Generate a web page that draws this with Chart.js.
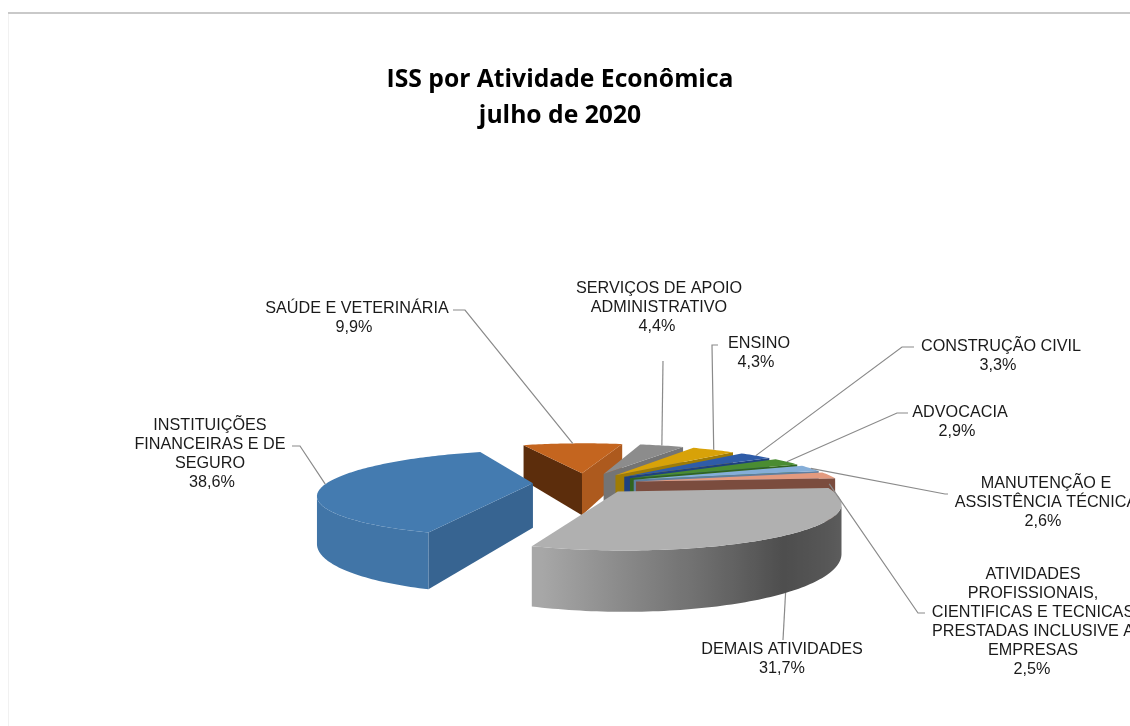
<!DOCTYPE html>
<html>
<head>
<meta charset="utf-8">
<title>ISS por Atividade Econômica</title>
<script src="https://cdn.jsdelivr.net/npm/chart.js@4/dist/chart.umd.min.js"></script>
<style>
  html, body { margin: 0; padding: 0; background: #fff; overflow: hidden; }
  #wrap { width: 1130px; height: 726px; }
  canvas { display: block; filter: blur(0.45px); }
</style>
</head>
<body>
<div id="wrap"><canvas id="grafico" width="1130" height="726"></canvas></div>
<script>
// === Dados ===
const titulo = ['ISS por Atividade Econômica', 'julho de 2020'];
const categorias = [
  ['SAÚDE E VETERINÁRIA'],
  ['SERVIÇOS DE APOIO', 'ADMINISTRATIVO'],
  ['ENSINO'],
  ['CONSTRUÇÃO CIVIL'],
  ['ADVOCACIA'],
  ['MANUTENÇÃO E', 'ASSISTÊNCIA TÉCNICA'],
  ['ATIVIDADES', 'PROFISSIONAIS,', 'CIENTIFICAS E TECNICAS', 'PRESTADAS INCLUSIVE A', 'EMPRESAS'],
  ['DEMAIS ATIVIDADES'],
  ['INSTITUIÇÕES', 'FINANCEIRAS E DE', 'SEGURO']
];
const valores = [9.9, 4.4, 4.3, 3.3, 2.9, 2.6, 2.5, 31.7, 38.6];

// === Estilo ===
const coresTopo = ['#c4651f', '#8c8c8c', '#d8a208', '#2f5ca8', '#4a8c32', '#85aed8', '#e39a7f', '#b0b0b0', '#447bb0'];
const coresInicio = ['#5c2d0c', '#6e6e6e', '#9a7600', '#1e3f7a', '#2f6020', '#5f7fa0', '#7b4c3e', '#808080', '#376491'];
const coresFim = ['#ad5a1e', '#747474', '#a07c04', '#1f4180', '#31641f', '#607fa0', '#7b4c3e', '#808080', '#376491'];

// posição dos rótulos: centro x, y da primeira linha, centro x do percentual
const posRotulos = [
  [357, 309, 354], [659, 289, 657], [759, 344, 756], [1001, 347, 998], [960, 413, 957],
  [1046, 484, 1043], [1033, 575, 1032], [782, 650, 782], [210, 426, 212]
];
// linhas de chamada: sai da fatia (altura relativa da parede) e segue até o rótulo
const chamadas = [
  { z: 0, pts: [[465, 310], [453, 310]] },
  { z: 0, pts: [[663, 361]] },
  { z: 0, pts: [[712, 345], [718, 345]] },
  { z: 0, pts: [[902, 347], [914, 347]] },
  { z: 0, pts: [[897, 413], [908, 413]] },
  { z: 0, pts: [[945, 494], [948, 494]] },
  { z: 0.2, pts: [[918, 613], [925, 613]] },
  { z: 1, pts: [[783, 640]] },
  { z: 0, pts: [[300, 446], [292, 446]] }
];

const FONTE = '"Liberation Sans", Arial, sans-serif';
const ALTURA = 44.5, INCLINACAO = 0.198, CAMERA = 900, DESLOC = 11;

function clarear(hex, f) {
  const n = parseInt(hex.slice(1), 16);
  const c = [n >> 16, (n >> 8) & 255, n & 255].map(v => Math.round(v * f));
  return `rgb(${c[0]},${c[1]},${c[2]})`;
}

// Projeção em perspectiva de um ponto do plano da pizza
function projetar(arc, u, v, z) {
  const s = 1 / (1 - v / CAMERA);
  return {
    x: arc.x + DESLOC + (u - DESLOC) * s,
    y: arc.y + INCLINACAO * v * s + z * ALTURA * s
  };
}

function pontoFatia(arc, ang, r, z) {
  const meio = (arc.startAngle + arc.endAngle) / 2;
  const off = arc.options.offset;
  return projetar(arc, off * Math.cos(meio) + r * Math.cos(ang), off * Math.sin(meio) + r * Math.sin(ang), z);
}

function poligono(ctx, pts, cor) {
  ctx.beginPath();
  pts.forEach((p, i) => i ? ctx.lineTo(p.x, p.y) : ctx.moveTo(p.x, p.y));
  ctx.closePath();
  ctx.fillStyle = cor;
  ctx.fill();
}

// sombra da parede curva conforme a direção da normal
function sombra(nx) {
  if (nx < -0.3) return 0.95;
  if (nx < 0.6) return 0.95 - (nx + 0.3) * 0.567;
  return 0.44 + (nx - 0.6) * 0.25;
}

function desenharParede(ctx, arc, i, a0, a1, passos) {
  const R = arc.outerRadius;
  const sup = [], inf = [], nxs = [];
  for (let k = 0; k <= passos; k++) {
    const b = a0 + (a1 - a0) * k / passos;
    const p = pontoFatia(arc, b, R, 0);
    // só o trecho que anda para a esquerda fica de frente para a câmera
    if (k < passos && pontoFatia(arc, b + (a1 - a0) / passos, R, 0).x >= p.x && !sup.length) continue;
    if (sup.length && p.x >= sup[sup.length - 1].x) break;
    sup.push(p);
    inf.push(pontoFatia(arc, b, R, 1));
    nxs.push(Math.cos(b));
  }
  if (sup.length < 2) return;
  const xIni = sup[0].x, xFim = sup[sup.length - 1].x;
  const grad = ctx.createLinearGradient(xIni, 0, xFim, 0);
  sup.forEach((p, k) => grad.addColorStop((p.x - xIni) / (xFim - xIni), clarear(coresTopo[i], sombra(nxs[k]))));
  poligono(ctx, sup.concat(inf.reverse()), grad);
}

function desenharFatia(ctx, arc, i) {
  const a0 = arc.startAngle, a1 = arc.endAngle, R = arc.outerRadius;
  const passos = Math.max(6, Math.ceil((a1 - a0) / 0.02));
  const apice = pontoFatia(arc, 0, 0, 0);
  const apiceB = pontoFatia(arc, 0, 0, 1);

  // faces radiais visíveis
  const p0 = pontoFatia(arc, a0, R, 0), p0b = pontoFatia(arc, a0, R, 1);
  const p1 = pontoFatia(arc, a1, R, 0), p1b = pontoFatia(arc, a1, R, 1);
  if (p0.x < apice.x) poligono(ctx, [apice, p0, p0b, apiceB], coresInicio[i]);
  if (p1.x > apice.x) poligono(ctx, [apice, p1, p1b, apiceB], coresFim[i]);

  desenharParede(ctx, arc, i, a0, a1, passos);

  // topo
  const topo = [apice];
  for (let k = 0; k <= passos; k++) topo.push(pontoFatia(arc, a0 + (a1 - a0) * k / passos, R, 0));
  poligono(ctx, topo, coresTopo[i]);
}

const pizza3d = {
  id: 'pizza3d',
  beforeDatasetsDraw(chart) {
    const ctx = chart.ctx;
    const arcos = chart.getDatasetMeta(0).data;
    ctx.save();
    arcos.forEach((arc, i) => desenharFatia(ctx, arc, i));
    ctx.restore();
    return false; // o desenho plano padrão não é usado
  },
  afterDraw(chart) {
    const ctx = chart.ctx;
    const arcos = chart.getDatasetMeta(0).data;
    ctx.save();

    // moldura
    ctx.fillStyle = '#f1f1f1';
    ctx.fillRect(8, 14, 1, 712);
    ctx.fillStyle = '#c9c9c9';
    ctx.fillRect(8, 12, 1122, 2);

    // título
    ctx.fillStyle = '#000';
    ctx.textAlign = 'center';
    ctx.textBaseline = 'middle';
    ctx.font = 'bold 24.7px "Open Sans", sans-serif';
    ctx.fillText(titulo[0], 560, 80);
    ctx.fillText(titulo[1], 560, 116);

    // linhas de chamada
    ctx.strokeStyle = '#8a8a8a';
    ctx.lineWidth = 1.2;
    arcos.forEach((arc, i) => {
      const meio = (arc.startAngle + arc.endAngle) / 2;
      const ini = pontoFatia(arc, meio, arc.outerRadius, chamadas[i].z);
      ctx.beginPath();
      ctx.moveTo(ini.x, ini.y);
      chamadas[i].pts.forEach(p => ctx.lineTo(p[0], p[1]));
      ctx.stroke();
    });

    // rótulos
    ctx.fillStyle = '#1a1a1a';
    ctx.font = '16.2px ' + FONTE;
    categorias.forEach((linhas, i) => {
      const [cx, y0, cxPct] = posRotulos[i];
      linhas.forEach((t, k) => ctx.fillText(t, cx, y0 + k * 19));
      ctx.fillText(valores[i].toFixed(1).replace('.', ',') + '%', cxPct, y0 + linhas.length * 19);
    });
    ctx.restore();
  }
};

new Chart(document.getElementById('grafico'), {
  type: 'pie',
  data: {
    labels: categorias,
    datasets: [{
      data: valores,
      backgroundColor: coresTopo,
      borderWidth: 0,
      offset: 52
    }]
  },
  options: {
    responsive: false,
    animation: false,
    rotation: -22,
    radius: 206,
    layout: { padding: { left: 100, right: 60, top: 240, bottom: 0 } },
    plugins: { legend: { display: false }, tooltip: { enabled: false } }
  },
  plugins: [pizza3d]
});
</script>
</body>
</html>
